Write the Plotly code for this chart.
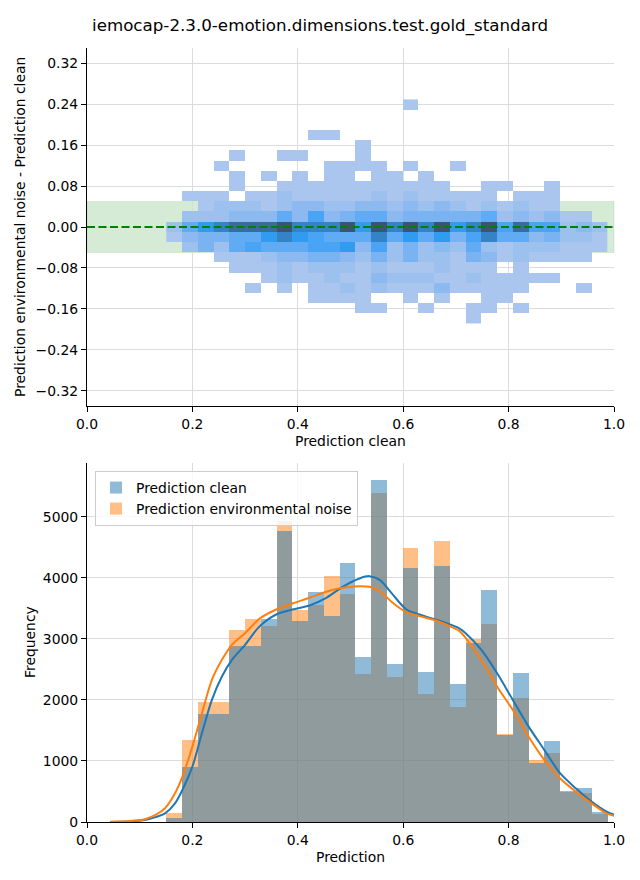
import plotly.graph_objects as go

# ---------------- data ----------------
title_text = "iemocap-2.3.0-emotion.dimensions.test.gold_standard"

# bin edges of the prediction axis (shared by both panels)
pred_bin_edges = [0.1505, 0.1804, 0.2103, 0.2402, 0.2701, 0.3000, 0.3299, 0.3598,
                  0.3897, 0.4196, 0.4495, 0.4794, 0.5093, 0.5392, 0.5691, 0.5990,
                  0.6289, 0.6588, 0.6887, 0.7186, 0.7485, 0.7784, 0.8083, 0.8382,
                  0.8681, 0.8980, 0.9279, 0.9578, 0.9877]
# bin edges of the difference axis (top panel)
diff_bin_edges = [-0.1895, -0.1696, -0.1496, -0.1297, -0.1097, -0.0898, -0.0698, -0.0499,
                  -0.0299, -0.0100, 0.0100, 0.0300, 0.0499, 0.0699, 0.0898, 0.1098,
                  0.1297, 0.1497, 0.1696, 0.1896, 0.2095, 0.2295, 0.2494]

# 2D histogram density level per cell (0 = empty), rows bottom -> top
cell_level = [
    [0,0,0,0,0,0,0,0,0,0,0,0,0,0,0,0,0,0,0,1,0,0,0,0,0,0,0,0],
    [0,0,0,0,0,0,0,0,0,0,0,0,1,1,0,0,1,0,0,1,1,0,1,0,0,0,0,0],
    [0,0,0,0,0,0,0,0,0,1,1,1,1,0,0,1,0,1,0,0,1,1,0,0,0,0,0,0],
    [0,0,0,0,0,1,0,1,0,1,1,2,1,2,1,1,1,3,1,1,1,1,1,0,0,0,1,0],
    [0,0,0,0,0,0,1,2,1,1,2,1,1,3,2,2,2,1,1,2,1,1,1,1,1,0,0,0],
    [0,0,0,0,1,1,1,2,1,2,2,2,1,2,1,1,1,2,1,1,1,0,1,0,0,0,0,0],
    [0,0,0,1,1,1,2,3,3,4,4,3,2,4,2,4,2,2,1,4,3,1,2,1,1,1,1,0],
    [0,2,4,2,5,6,5,5,5,6,6,7,3,6,2,4,2,3,2,5,2,1,2,2,2,1,1,1],
    [1,3,4,4,5,5,7,8,7,6,5,5,5,8,5,7,5,7,4,6,8,5,5,3,4,2,2,1],
    [2,5,7,8,9,9,9,10,8,8,8,10,7,10,8,10,8,10,7,8,10,6,9,6,6,2,3,2],
    [0,2,2,2,3,3,3,5,3,6,3,4,5,5,3,4,4,4,4,4,5,2,3,2,3,1,1,0],
    [0,0,1,2,2,2,1,2,3,3,2,2,3,3,2,3,2,3,2,1,2,1,2,1,1,0,0,0],
    [0,1,1,1,0,1,1,2,1,1,1,1,1,2,1,2,1,1,1,1,1,0,1,1,1,0,0,0],
    [0,0,0,0,1,0,0,1,1,1,1,1,1,1,1,1,1,1,0,0,1,1,0,0,1,0,0,0],
    [0,0,0,0,1,0,1,0,1,0,1,1,0,1,1,0,1,0,0,0,0,0,0,0,0,0,0,0],
    [0,0,0,1,0,0,0,0,0,0,1,1,1,1,0,1,0,0,1,0,0,0,0,0,0,0,0,0],
    [0,0,0,0,1,0,0,1,1,0,0,0,1,0,0,0,0,0,0,0,0,0,0,0,0,0,0,0],
    [0,0,0,0,0,0,0,0,0,0,0,0,1,0,0,0,0,0,0,0,0,0,0,0,0,0,0,0],
    [0,0,0,0,0,0,0,0,0,1,1,0,0,0,0,0,0,0,0,0,0,0,0,0,0,0,0,0],
    [0,0,0,0,0,0,0,0,0,0,0,0,0,0,0,0,0,0,0,0,0,0,0,0,0,0,0,0],
    [0,0,0,0,0,0,0,0,0,0,0,0,0,0,0,0,0,0,0,0,0,0,0,0,0,0,0,0],
    [0,0,0,0,0,0,0,0,0,0,0,0,0,0,0,1,0,0,0,0,0,0,0,0,0,0,0,0],
]
level_colors = ["#aac6ee", "#9cc1ee", "#8cbaf0", "#79b3f1", "#60abf3",
                "#49a4f5", "#2f9cf0", "#3383c6", "#3a6b9c", "#3e5373"]

# histogram counts per bin (bottom panel)
freq_clean = [66, 904, 1770, 1770, 2877, 2888, 3326, 4762, 3285, 3770, 3370, 4236, 2701, 5600,
              2592, 4153, 2460, 4186, 2263, 2926, 3792, 1425, 2444, 964, 1326, 505, 553, 164]
freq_noise = [145, 1343, 1962, 1962, 3150, 3324, 3216, 4926, 3470, 3560, 4022, 3742, 2416, 5386,
              2378, 4482, 2099, 4597, 1885, 3003, 3249, 1441, 2033, 1014, 1129, 495, 471, 132]

# KDE curves (scaled to counts)
kde_x = [0.044, 0.08, 0.11, 0.13, 0.148, 0.167, 0.181, 0.2, 0.218, 0.237, 0.256, 0.275, 0.30,
         0.327, 0.359, 0.39, 0.422, 0.454, 0.485, 0.517, 0.536, 0.556, 0.58, 0.606, 0.631,
         0.656, 0.681, 0.707, 0.718, 0.748, 0.778, 0.808, 0.838, 0.868, 0.898, 0.928, 0.958,
         0.987, 1.0]
kde_clean = [2, 8, 33, 80, 142, 306, 525, 907, 1454, 2000, 2383, 2656, 2902,
             3200, 3399, 3481, 3546, 3672, 3852, 3989, 4027, 3962, 3727, 3481, 3399,
             3328, 3262, 3169, 3096, 2822, 2439, 2000, 1562, 1178, 795, 548, 329,
             164, 120]
kde_noise = [3, 15, 45, 115, 224, 470, 743, 1235, 1781, 2328, 2656, 2902, 3093,
             3328, 3481, 3579, 3672, 3770, 3836, 3863, 3852, 3781, 3590, 3437, 3372,
             3317, 3235, 3126, 3020, 2658, 2219, 1836, 1397, 1014, 712, 493, 301,
             137, 104]

series_names = ["Prediction clean", "Prediction environmental noise"]

x_ticks = [0.0, 0.2, 0.4, 0.6, 0.8, 1.0]
x_ticklabels = ["0.0", "0.2", "0.4", "0.6", "0.8", "1.0"]
diff_ticks = [0.32, 0.24, 0.16, 0.08, 0.0, -0.08, -0.16, -0.24, -0.32]
diff_ticklabels = ["0.32", "0.24", "0.16", "0.08", "0.00", "\u22120.08", "\u22120.16", "\u22120.24", "\u22120.32"]
freq_ticks = [0, 1000, 2000, 3000, 4000, 5000]
freq_ticklabels = ["0", "1000", "2000", "3000", "4000", "5000"]

# ---------------- figure ----------------
W, H = 640, 880
FONT = "DejaVu Sans"
TICK_SIZE = 13.9
BLUE = "#1f77b4"
ORANGE = "#ff7f0e"

fig = go.Figure()

# heatmap
nlev = len(level_colors)
colorscale = [[i / (nlev - 1), c] for i, c in enumerate(level_colors)]
z = [[(v if v > 0 else None) for v in row] for row in cell_level]
fig.add_trace(go.Heatmap(
    x=pred_bin_edges, y=diff_bin_edges, z=z,
    colorscale=colorscale, zmin=1, zmax=nlev, showscale=False,
    hoverinfo="skip", xaxis="x", yaxis="y",
))

# histogram bars (noise first, clean on top)
centers = [(pred_bin_edges[i] + pred_bin_edges[i + 1]) / 2 for i in range(len(pred_bin_edges) - 1)]
widths = [pred_bin_edges[i + 1] - pred_bin_edges[i] for i in range(len(pred_bin_edges) - 1)]
fig.add_trace(go.Bar(
    x=centers, y=freq_noise, width=widths, name=series_names[1],
    marker=dict(color="rgba(255,127,14,0.5)", line=dict(width=0)),
    xaxis="x2", yaxis="y2", legendrank=2,
))
fig.add_trace(go.Bar(
    x=centers, y=freq_clean, width=widths, name=series_names[0],
    marker=dict(color="rgba(31,119,180,0.5)", line=dict(width=0)),
    xaxis="x2", yaxis="y2", legendrank=1,
))
fig.add_trace(go.Scatter(
    x=kde_x, y=kde_clean, mode="lines", line=dict(color=BLUE, width=2, shape="spline", smoothing=0.8),
    showlegend=False, xaxis="x2", yaxis="y2",
))
fig.add_trace(go.Scatter(
    x=kde_x, y=kde_noise, mode="lines", line=dict(color=ORANGE, width=2, shape="spline", smoothing=0.8),
    showlegend=False, xaxis="x2", yaxis="y2",
))

def px_x(a, b):
    return [a / W, b / W]

def px_y(top, bottom):
    return [1 - bottom / H, 1 - top / H]

axis_common = dict(
    showline=True, linecolor="black", linewidth=1.1,
    ticks="outside", ticklen=5, tickwidth=1.1, tickcolor="black",
    showgrid=True, gridcolor="#dcdcdc", gridwidth=1,
    zeroline=False, tickfont=dict(family=FONT, size=TICK_SIZE, color="black"),
    tickmode="array", automargin=False,
)

fig.update_layout(
    width=W, height=H,
    margin=dict(l=0, r=0, t=0, b=0, autoexpand=False),
    paper_bgcolor="white", plot_bgcolor="white",
    font=dict(family=FONT, size=TICK_SIZE, color="black"),
    barmode="overlay", bargap=0,
    xaxis=dict(domain=px_x(87, 614), range=[0, 1], tickvals=x_ticks, ticktext=x_ticklabels,
               anchor="y", **axis_common),
    yaxis=dict(domain=px_y(48, 406), range=[-0.35, 0.35], tickvals=diff_ticks,
               ticktext=diff_ticklabels, anchor="x", **axis_common),
    xaxis2=dict(domain=px_x(87, 614), range=[0, 1], tickvals=x_ticks, ticktext=x_ticklabels,
                anchor="y2", **axis_common),
    yaxis2=dict(domain=px_y(463, 822), range=[0, 5880], tickvals=freq_ticks,
                ticktext=freq_ticklabels, anchor="x2", **axis_common),
    legend=dict(x=95 / W, y=1 - 471 / H, xanchor="left", yanchor="top",
                bgcolor="rgba(255,255,255,0.8)", bordercolor="#cccccc", borderwidth=1,
                font=dict(family=FONT, size=TICK_SIZE, color="black"),
                tracegroupgap=0, itemwidth=30),
    showlegend=True,
)

# band and zero line
fig.add_shape(type="rect", xref="x domain", yref="y", x0=0, x1=1, y0=-0.05, y1=0.05,
              fillcolor="rgba(0,128,0,0.16)", line=dict(color="rgba(0,128,0,0.1)", width=1),
              layer="below")
fig.add_shape(type="line", xref="x domain", yref="y", x0=0, x1=1, y0=0, y1=0,
              line=dict(color="#008000", width=2, dash="8px,3.5px"), layer="above")

def label(text, x, y, angle=0, size=TICK_SIZE):
    fig.add_annotation(text=text, x=x / W, y=1 - y / H, xref="paper", yref="paper",
                       showarrow=False, textangle=angle, xanchor="center", yanchor="middle",
                       font=dict(family=FONT, size=size, color="black"))

label(title_text, 320, 26, size=16.7)
label("Prediction clean", 350, 441)
label("Prediction environmental noise - Prediction clean", 20, 227, angle=-90)
label("Prediction", 350, 857)
label("Frequency", 30, 642, angle=-90)

fig.write_html("out.html", config={"displayModeBar": False},
               post_script="document.body.style.margin='0';document.body.style.overflow='hidden';")
